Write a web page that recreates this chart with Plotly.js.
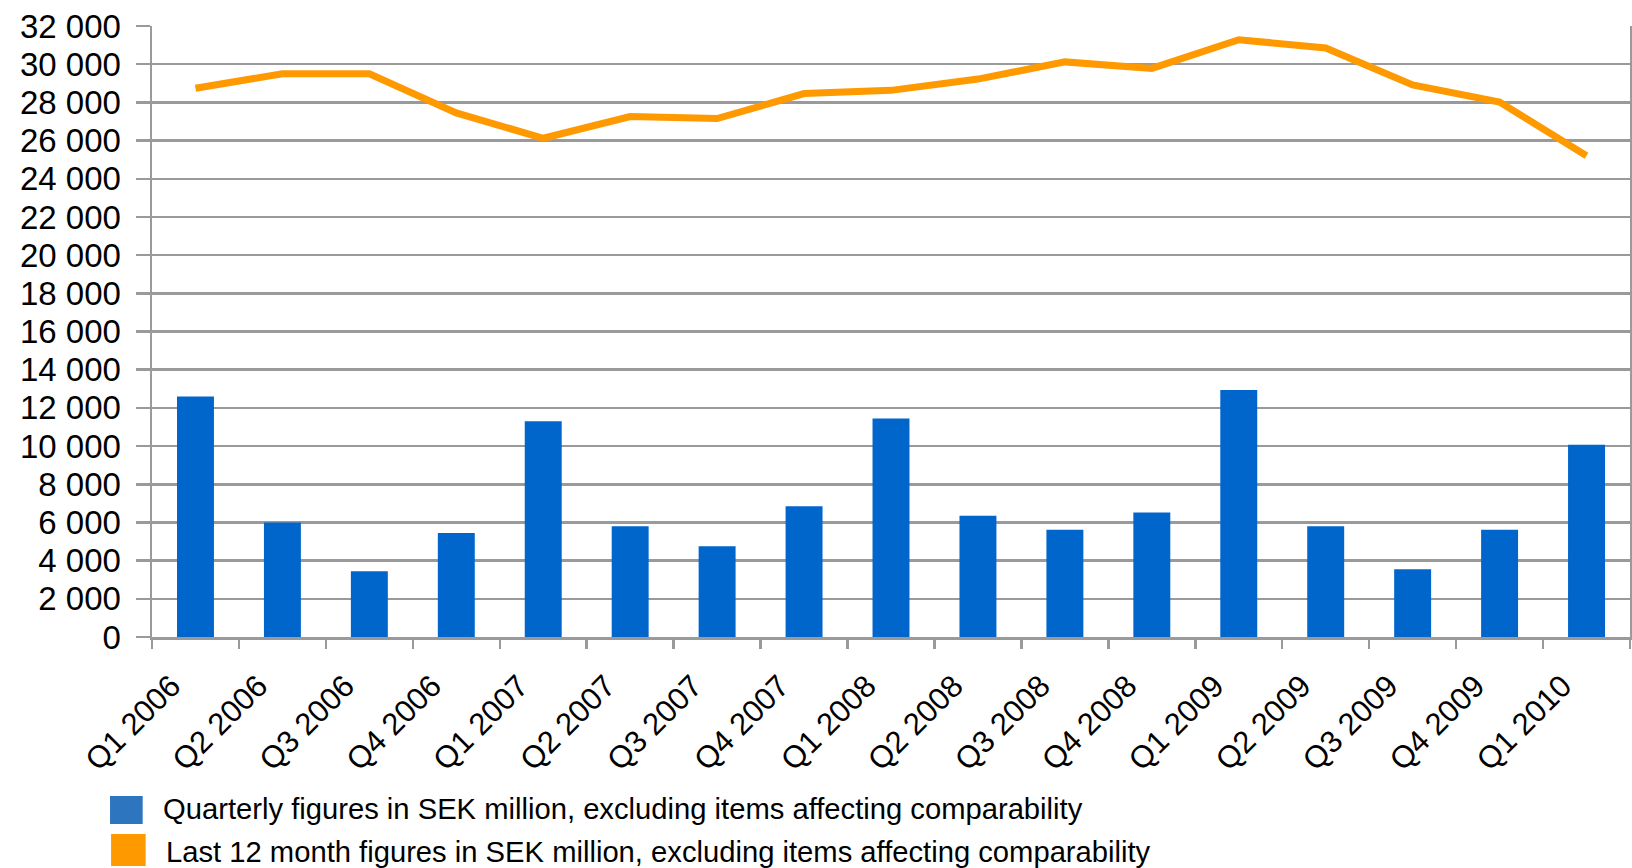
<!DOCTYPE html>
<html>
<head>
<meta charset="utf-8">
<script src="https://cdn.plot.ly/plotly-3.0.1.min.js"></script>
<style>html,body{margin:0;padding:0;background:#fff;}#chart{width:1632px;height:868px;}</style>
</head>
<body>
<div id="chart"></div>
<script>
// ---- data ----
const quarters = ["Q1 2006","Q2 2006","Q3 2006","Q4 2006","Q1 2007","Q2 2007","Q3 2007","Q4 2007",
                  "Q1 2008","Q2 2008","Q3 2008","Q4 2008","Q1 2009","Q2 2009","Q3 2009","Q4 2009","Q1 2010"];
const quarterly = [12600, 6000, 3450, 5450, 11300, 5800, 4750, 6850,
                   11450, 6350, 5620, 6520, 12930, 5800, 3550, 5620, 10070];
const last12 = [28740, 29500, 29500, 27450, 26120, 27260, 27150, 28460,
                28630, 29220, 30120, 29780, 31280, 30850, 28910, 28020, 25200];
const seriesNames = [
  "Quarterly figures in SEK million, excluding items affecting comparability",
  "Last 12 month figures in SEK million, excluding items affecting comparability"
];

// ---- styles ----
const barColor = "#0066CC";
const legendBlue = "#2E75C0";
const lineColor = "#FF9900";
const gridColor = "#9A9A9A";
const fontFam = "Liberation Sans, Arial, sans-serif";

const traces = [
  { type: "bar", x: quarters, y: quarterly, name: seriesNames[0],
    marker: { color: barColor }, showlegend: false, hoverinfo: "x+y" },
  { type: "scatter", mode: "lines", x: quarters, y: last12, name: seriesNames[1],
    line: { color: lineColor, width: 7 }, showlegend: false, hoverinfo: "x+y" }
];

const legendSquares = [
  { color: legendBlue, x0: -0.0284, x1: -0.0063, y0: -0.2602, y1: -0.3060 },
  { color: lineColor,  x0: -0.0277, x1: -0.0043, y0: -0.3224, y1: -0.3748 }
];
const legendTextPos = [ { x: 0.0061, y: -0.2823 }, { x: 0.0078, y: -0.3527 } ];

const layout = {
  width: 1632, height: 868,
  margin: { l: 152, r: 2, t: 26, b: 231 },
  paper_bgcolor: "#fff", plot_bgcolor: "#fff",
  separators: ", ",
  bargap: 0.575,
  showlegend: false,
  font: { family: fontFam, color: "#000", size: 29 },
  xaxis: {
    type: "category",
    tickson: "boundaries",
    ticks: "outside", ticklen: 9, tickwidth: 2.5, tickcolor: gridColor,
    showline: true, linecolor: gridColor, linewidth: 2.5,
    showgrid: false,
    tickangle: -45,
    tickfont: { family: fontFam, size: 31, color: "#000" },
    ticklabelstandoff: 16,
    ticklabelshift: -24
  },
  yaxis: {
    range: [0, 32000], dtick: 2000, tick0: 0,
    tickformat: ",.0f",
    ticks: "outside", ticklen: 14, tickwidth: 2.5, tickcolor: gridColor,
    showline: true, linecolor: gridColor, linewidth: 2.5, mirror: true,
    showgrid: true, gridcolor: gridColor, gridwidth: 2.5,
    zeroline: false,
    tickfont: { family: fontFam, size: 33, color: "#000" },
    ticklabelstandoff: 8
  },
  shapes: legendSquares.map(s => ({
    type: "rect", xref: "paper", yref: "paper",
    x0: s.x0, x1: s.x1, y0: s.y0, y1: s.y1,
    fillcolor: s.color, line: { width: 0 }
  })),
  annotations: seriesNames.map((n, i) => ({
    text: n, xref: "paper", yref: "paper",
    x: legendTextPos[i].x, y: legendTextPos[i].y,
    xanchor: "left", yanchor: "middle", showarrow: false,
    font: { family: fontFam, size: 29.2, color: "#000" }
  }))
};

Plotly.newPlot("chart", traces, layout, { displayModeBar: false, staticPlot: true });
</script>
</body>
</html>
